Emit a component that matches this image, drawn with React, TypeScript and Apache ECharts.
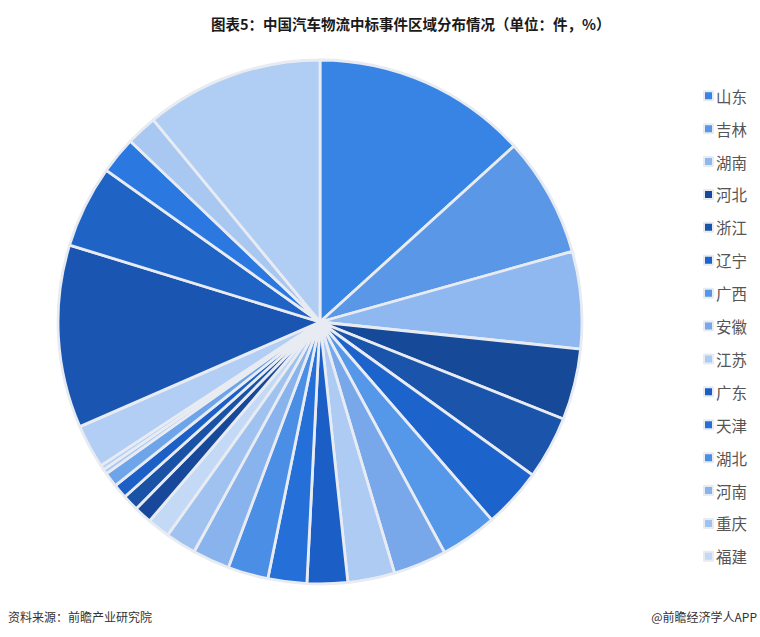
import React, { useEffect, useRef } from "react";
import * as echarts from "echarts";

const regions = [
  "山东", "吉林", "湖南", "河北", "浙江", "辽宁", "广西", "安徽", "江苏", "广东",
  "天津", "湖北", "河南", "重庆", "福建", "北京", "上海", "四川", "陕西", "江西",
  "黑龙江", "云南", "贵州", "山西", "内蒙古", "新疆", "甘肃",
];
const shares = [
  13.3, 7.4, 6.0, 4.4, 3.9, 3.7, 3.5, 3.3, 2.9, 2.5,
  2.4, 2.5, 2.3, 1.9, 1.4, 1.1, 1.0, 0.9, 0.9, 0.3,
  0.3, 2.7, 11.3, 5.1, 2.3, 1.9, 11.0,
];
const sliceColors = [
  "#3784e4", "#5a97e6", "#8fb8f0", "#164a98", "#1a54ab", "#1d63cc", "#5597e8", "#78a8ea", "#aecbf3", "#1b5ec6",
  "#2470d8", "#4a8ee6", "#88b3ed", "#9fc2f0", "#c3d9f5", "#17489a", "#1a52a6", "#1c5fc6", "#6ea4ea", "#a9c8f2",
  "#b5d0f4", "#b2cef4", "#1a55b2", "#1f63c4", "#2a78e0", "#a8c7f1", "#b0cdf3",
];
const legendNames = regions.slice(0, 15);
const titleText = "图表5：中国汽车物流中标事件区域分布情况（单位：件，%）";
const sourceText = "资料来源：前瞻产业研究院";
const creditText = "@前瞻经济学人APP";

export default function App() {
  const ref = useRef<HTMLDivElement>(null);
  useEffect(() => {
    if (!ref.current) return;
    const chart = echarts.init(ref.current, null, { renderer: "svg" });
    const font = '"Noto Sans CJK SC", "Noto Sans", sans-serif';
    chart.setOption({
      animation: false,
      backgroundColor: "#ffffff",
      title: {
        text: titleText,
        left: 206,
        top: 11,
        textStyle: { fontSize: 14.5, fontWeight: "bold", color: "#1a1a1a", fontFamily: font },
      },
      legend: {
        orient: "vertical",
        left: 698,
        top: 83,
        itemWidth: 9,
        itemHeight: 9,
        itemGap: 17.4,
        icon: "rect",
        data: legendNames,
        textStyle: { fontSize: 15.5, color: "#555555", fontFamily: font, padding: [0, 0, 0, -2] },
      },
      graphic: [
        {
          type: "text",
          left: 8,
          top: 610,
          style: { text: sourceText, fontSize: 12, fill: "#333333", fontFamily: font },
        },
        {
          type: "text",
          right: 3,
          top: 610,
          style: { text: creditText, fontSize: 12, fill: "#333333", fontFamily: font },
        },
      ],
      series: [
        {
          type: "pie",
          center: [320, 322],
          radius: [0, 262],
          startAngle: 90,
          clockwise: true,
          label: { show: false },
          labelLine: { show: false },
          emphasis: { disabled: true },
          itemStyle: { borderColor: "#e8ecf2", borderWidth: 2.8 },
          data: regions.map((name, i) => ({
            name,
            value: shares[i],
            itemStyle: { color: sliceColors[i] },
          })),
        },
      ],
    });
    return () => chart.dispose();
  }, []);
  return (
    <div
      ref={ref}
      style={{ position: "fixed", left: 0, top: 0, width: 760, height: 637 }}
    />
  );
}
